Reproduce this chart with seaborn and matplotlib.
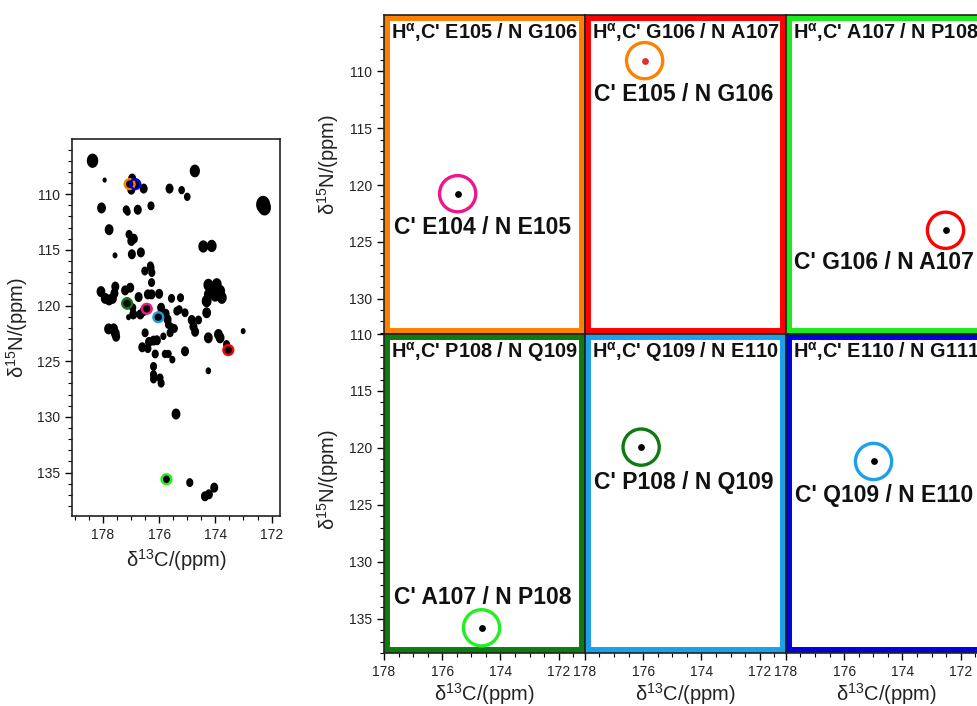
import numpy as np
import pandas as pd
import seaborn as sns
import matplotlib.pyplot as plt
from matplotlib.patches import Rectangle
from matplotlib.ticker import MultipleLocator

# --- overview spectrum (13C' / 15N), peaks ---
peak_c = [178.37, 177.94, 176.96, 176.99, 177.05, 176.85, 176.55, 175.63, 175.20, 175.00,
          174.73, 172.30, 172.25, 178.05, 177.17, 177.12, 176.76, 176.29, 177.78, 177.07,
          176.99, 176.90, 177.57, 176.97, 176.65, 174.43, 174.13, 176.31,
          176.51, 176.29, 176.26, 176.27, 178.07, 177.92, 177.78, 177.66, 177.59, 177.56,
          177.21, 177.03, 177.14, 176.73, 176.40, 176.27, 176.00, 175.56, 175.24, 176.44,
          176.94, 176.92, 177.09, 176.67, 176.55, 176.03, 175.93, 175.77, 175.70, 175.67,
          175.55, 175.37, 175.29, 175.08, 177.80, 177.62, 177.56, 177.53, 176.50, 176.36,
          176.20, 176.08, 176.60, 176.40, 176.14, 175.85, 175.79, 175.67, 175.53, 175.61,
          175.46, 175.08, 176.20, 176.20, 176.20, 175.97, 175.93, 174.84, 174.78, 174.72,
          174.60, 174.31, 174.25, 174.31, 174.25, 174.13, 173.95, 173.83, 173.77, 174.01,
          174.25, 173.89, 173.83, 173.54, 173.60, 173.01, 174.25,
          175.40, 175.74, 174.91, 174.04, 174.23, 174.37]
peak_n = [107.00, 108.74, 108.60, 109.60, 109.10, 109.10, 109.50, 109.50, 109.64, 110.24,
          107.92, 110.94, 111.20, 111.24, 111.40, 111.60, 111.40, 111.05, 113.19, 113.61,
          114.20, 114.00, 115.50, 115.40, 115.23, 114.70, 114.65, 116.44,
          116.90, 116.60, 117.04, 117.94, 118.75, 119.36, 119.50, 119.36, 118.90, 118.30,
          118.64, 118.40, 119.81, 119.24, 119.00, 119.00, 118.95, 119.36, 119.30, 120.29,
          120.20, 120.80, 121.05, 120.80, 120.50, 121.05, 120.20, 120.74, 121.25, 121.70,
          121.99, 120.50, 120.37, 120.65, 122.10, 122.10, 122.50, 122.80, 122.45, 123.27,
          123.15, 123.12, 123.75, 123.87, 124.35, 122.76, 124.35, 124.35, 124.86, 122.45,
          122.06, 124.11, 125.47, 126.20, 126.60, 126.50, 126.97, 121.30, 121.90, 122.36,
          121.30, 119.60, 119.00, 120.65, 118.15, 118.40, 118.10, 118.70, 119.30, 119.10,
          122.90, 122.60, 122.90, 124.00, 123.50, 122.30, 125.86,
          129.74, 135.60, 135.90, 136.35, 136.95, 137.13]
peak_int = [2.0, 0.3, 1.0, 1.0, 1.0, 1.2, 1.0, 1.0, 0.7, 0.7,
            1.6, 3.0, 2.5, 1.2, 0.8, 0.6, 1.0, 0.8, 1.2, 0.8,
            1.0, 1.0, 0.4, 1.0, 1.0, 1.5, 1.5, 0.8,
            0.8, 0.8, 0.8, 0.8, 1.2, 1.2, 1.2, 1.2, 1.0, 1.0,
            1.0, 1.0, 1.5, 1.0, 1.0, 1.0, 1.0, 0.8, 0.8, 1.0,
            0.8, 1.0, 0.4, 1.0, 1.0, 1.2, 1.0, 1.0, 1.0, 0.8,
            0.8, 0.8, 0.8, 0.8, 1.2, 1.2, 1.2, 1.0, 0.8, 1.0,
            1.0, 1.0, 1.0, 0.8, 0.8, 0.6, 0.7, 0.7, 0.6, 0.8,
            0.8, 1.0, 0.8, 0.8, 0.8, 0.8, 0.8, 1.0, 1.0, 1.0,
            0.8, 1.5, 1.2, 1.2, 1.5, 1.5, 1.5, 1.5, 1.5, 1.5,
            1.2, 1.2, 1.2, 1.2, 0.8, 0.4, 0.5,
            1.2, 0.8, 0.8, 1.0, 1.0, 1.0]

# peaks marked with coloured rings in the overview
mark_c = [177.05, 176.85, 177.14, 176.44, 176.03, 173.54, 175.74]
mark_n = [109.10, 109.10, 119.81, 120.29, 121.05, 124.00, 135.60]
mark_col = ['#ff8000', '#0000e6', '#0a7d0a', '#f0168a', '#1e9fe3', '#ff0000', '#22ee22']

# --- strips ---
strip_titles = ["E105 / N G106", "G106 / N A107", "A107 / N P108",
                "P108 / N Q109", "Q109 / N E110", "E110 / N G111"]
strip_c = [175.47, 175.95, 172.52, 174.65, 176.07, 174.99]
strip_n = [120.76, 109.06, 123.98, 135.79, 119.93, 121.19]
strip_labels = ["C' E104 / N E105", "C' E105 / N G106", "C' G106 / N A107",
                "C' A107 / N P108", "C' P108 / N Q109", "C' Q109 / N E110"]
frame_col = ['#ff8000', '#ff0000', '#1aeb1a', '#0f7a0f', '#1ca0e8', '#0000dd']
ring_col = ['#f0168a', '#ff8000', '#ff0000', '#22ee22', '#0f7a0f', '#1ca0e8']
dot_col = ['black', '#e03030', 'black', 'black', 'black', 'black']

sns.set_theme(style='ticks')
plt.rcParams['font.family'] = ['Liberation Sans', 'DejaVu Sans']
plt.rcParams['mathtext.fontset'] = 'custom'
plt.rcParams['mathtext.rm'] = 'Liberation Sans'
plt.rcParams['mathtext.default'] = 'regular'
plt.rcParams['xtick.direction'] = 'out'
plt.rcParams['ytick.direction'] = 'out'

xlab = 'δ$^{13}$C/(ppm)'
ylab = 'δ$^{15}$N/(ppm)'

fig = plt.figure(figsize=(9.77, 7.06), dpi=100)

t = np.linspace(0, 2 * np.pi, 40)
blob = np.column_stack([0.8 * np.cos(t), np.sin(t)])


def style_ticks(ax, left=True, bottom=True):
    ax.xaxis.set_major_locator(MultipleLocator(2))
    ax.xaxis.set_minor_locator(MultipleLocator(0.5))
    ax.yaxis.set_major_locator(MultipleLocator(5))
    ax.yaxis.set_minor_locator(MultipleLocator(1))
    ax.tick_params(which='major', length=5, width=1, labelsize=10, color='black', labelcolor='#222222')
    ax.tick_params(which='minor', length=3, width=0.8, color='black')
    ax.tick_params(axis='y', which='both', left=left, labelleft=left)
    ax.tick_params(axis='x', which='both', bottom=bottom, labelbottom=bottom)
    for s in ax.spines.values():
        s.set_color('#222222')
        s.set_linewidth(1.2)
        s.set_zorder(5)


# overview panel
ax0 = fig.add_axes([0.0737, 0.2691, 0.2129, 0.534])
df = pd.DataFrame({'C': peak_c, 'N': peak_n, 'I': peak_int})
sns.scatterplot(data=df, x='C', y='N', size='I', sizes=(14, 160), color='black',
                marker=blob, linewidth=0, legend=False, ax=ax0)
ax0.scatter(mark_c, mark_n, s=50, facecolors='none', edgecolors=mark_col, linewidths=1.7, zorder=3)
ax0.set_xlim(179.1, 171.7)
ax0.set_ylim(138.9, 105.05)
style_ticks(ax0)
ax0.set_xlabel(xlab, fontsize=14.5, color='#222222')
ax0.set_ylabel(ylab, fontsize=14.5, color='#222222')
ax0.yaxis.set_label_coords(-0.2, 0.5)

# 2 x 3 strip grid (third column runs past the right edge)
x0, wcol = 0.393, 0.2057
rows = [(0.5269, (133.1, 105.05)), (0.0751, (138.0, 110.0))]
ylab_y = [0.53, 0.545]
label_dn = [3.0, 3.0, 2.8, -2.65, 3.07, 3.0]
for i in range(6):
    r, c = divmod(i, 3)
    bottom, ylim = rows[r]
    ax = fig.add_axes([x0 + c * wcol, bottom, wcol, 0.4518])
    sns.scatterplot(x=[strip_c[i]], y=[strip_n[i]], color=dot_col[i], s=24,
                    linewidth=0, legend=False, ax=ax, zorder=4)
    ax.scatter([strip_c[i]], [strip_n[i]], s=680, facecolors='none',
               edgecolors=ring_col[i], linewidths=2.4, zorder=3)
    ax.set_xlim(178.0, 171.1)
    ax.set_ylim(*ylim)
    ax.add_patch(Rectangle((0, 0), 1, 1, transform=ax.transAxes, fill=False,
                           edgecolor=frame_col[i], linewidth=8.6, zorder=2))
    ax.text(0.035, 0.944, "H$^{α}$,C' " + strip_titles[i], transform=ax.transAxes,
            ha='left', va='center', fontsize=14.3, fontweight='bold', color='#111111')
    ax.text(174.62, strip_n[i] + label_dn[i], strip_labels[i], ha='center', va='center',
            fontsize=16.5, fontweight='bold', color='#111111')
    style_ticks(ax, left=(c == 0), bottom=(r == 1))
    if r == 1:
        ax.set_xlabel(xlab, fontsize=14.5, color='#222222', labelpad=2)
    if c == 0:
        ax.set_ylabel(ylab, fontsize=14.5, color='#222222')
        ax.yaxis.set_label_coords(-0.214, ylab_y[r])

plt.savefig('out.png', dpi=100)
